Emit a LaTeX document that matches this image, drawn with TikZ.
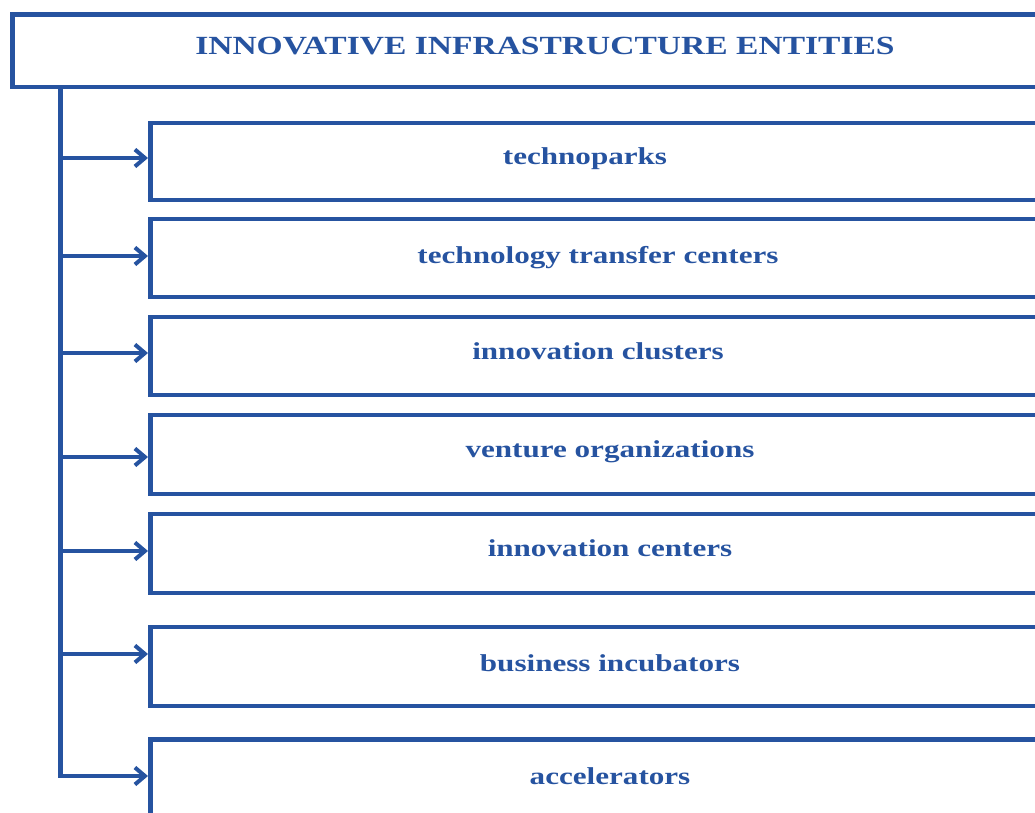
\documentclass[tikz,border=0pt]{standalone}
\usepackage{fontspec}
\setmainfont{Liberation Serif}
\usetikzlibrary{arrows.meta}
\definecolor{ink}{RGB}{38,83,160}
% widened bold serif lettering
\newcommand{\widetext}[2]{\scalebox{1.28}[1]{\fontsize{#1}{#1}\selectfont\bfseries #2}}
\begin{document}
\begin{tikzpicture}[x=1pt,y=-1pt,
  frame/.style={draw=ink, line width=4.5pt, rectangle, outer sep=0pt, inner sep=0pt,
                anchor=north west, minimum width=1100pt},
  itembox/.style={frame, minimum height=78pt},
  lbl/.style={text=ink, anchor=base, inner sep=0pt},
  link/.style={draw=ink, line width=4.2pt},
  arrowlink/.style={link, -{Straight Barb[length=10pt,width=17pt,line width=4pt]}, shorten >=2.5pt}]
\useasboundingbox[clip] (0,0) rectangle (1035,813);

% heading box
\node[frame, minimum height=72.5pt] (title) at (12.5,14.5) {};
\node[lbl] (titletext) at (545,55) {\widetext{26.2}{INNOVATIVE INFRASTRUCTURE ENTITIES}};

% entity boxes
\node[itembox, minimum height=77pt] (b1) at (150.5,123) {};
\node[itembox, minimum height=78pt] (b2) at (150.5,219) {};
\node[itembox, minimum height=78pt] (b3) at (150.5,317) {};
\node[itembox, minimum height=79pt] (b4) at (150.5,415) {};
\node[itembox, minimum height=79pt] (b5) at (150.5,514) {};
\node[itembox, minimum height=79pt] (b6) at (150.5,627) {};
\node[itembox, minimum height=100pt] (b7) at (150.5,739.5) {};

\node[lbl] (t1) at (585,165) {\widetext{24.3}{technoparks}};
\node[lbl] (t2) at (598,263) {\widetext{24.3}{technology transfer centers}};
\node[lbl] (t3) at (598,359) {\widetext{24.3}{innovation clusters}};
\node[lbl] (t4) at (610,457) {\widetext{24.3}{venture organizations}};
\node[lbl] (t5) at (610,556) {\widetext{24.3}{innovation centers}};
\node[lbl] (t6) at (610,671) {\widetext{24.3}{business incubators}};
\node[lbl] (t7) at (610,784) {\widetext{24.3}{accelerators}};

% vertical spine
\coordinate (top) at (60.5,87);
\coordinate (j1) at (60.5,158);
\coordinate (j2) at (60.5,256);
\coordinate (j3) at (60.5,353);
\coordinate (j4) at (60.5,457);
\coordinate (j5) at (60.5,551);
\coordinate (j6) at (60.5,654);
\coordinate (j7) at (60.5,776);
\draw[link, line cap=rect] (top) -- (j7);

% branches into each box
\foreach \i in {1,...,7}
  \draw[arrowlink] (j\i) -- (b\i.west |- j\i);
\end{tikzpicture}
\end{document}
